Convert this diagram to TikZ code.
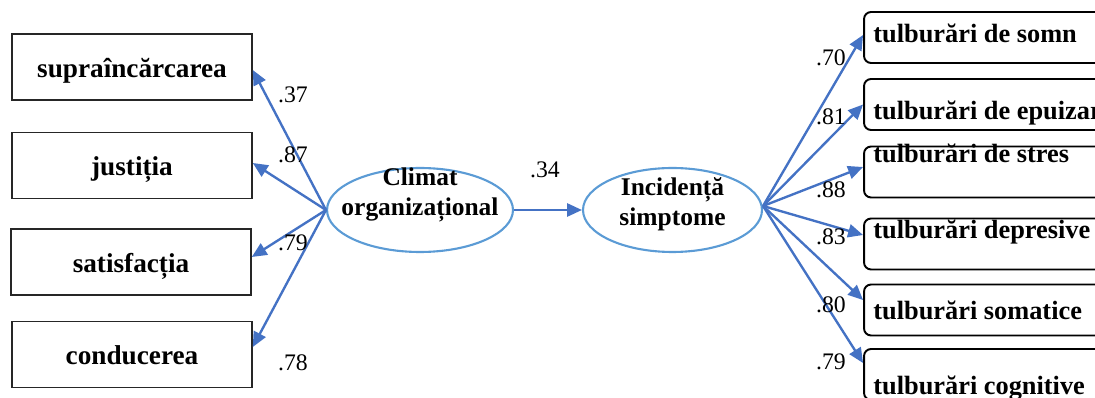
\documentclass[tikz,border=0pt]{standalone}
\usepackage{fontspec}
\setmainfont{Liberation Serif}
\usetikzlibrary{arrows.meta,shapes.geometric}
\definecolor{pathblue}{HTML}{4472C4}
\definecolor{latblue}{HTML}{5B9BD5}

\begin{document}
\begin{tikzpicture}[
  x=0.02cm, y=-0.02cm,
  font=\fontsize{13.5}{17}\selectfont,
  >={Triangle[length=8.5pt,width=7.5pt]},
  indic/.style={draw=black!85, line width=0.9pt, minimum width=4.8cm, minimum height=1.32cm,
                font=\fontsize{15.5}{17}\selectfont\bfseries, text height=2.5ex, text depth=0pt},
  symp/.style={draw=black, line width=1.1pt, rounded corners=4pt,
               minimum width=5.12cm, minimum height=1.02cm},
  symptxt/.style={anchor=west, inner sep=0pt, font=\fontsize{15}{17}\selectfont\bfseries},
  latent/.style={ellipse, draw=latblue, line width=1.2pt, minimum height=1.68cm, inner sep=0pt},
  lattxt/.style={align=center, inner sep=0pt, font=\fontsize{14.5}{17}\selectfont\bfseries},
  load/.style={->, draw=pathblue, line width=1.35pt},
  coef/.style={inner sep=0pt},
]
\useasboundingbox (0,0) rectangle (1095,398);
\clip (0,0) rectangle (1095,398);

% ---- indicators of organisational climate (left) ----
\node[indic] (supra) at (132, 67)    {supraîncărcarea};
\node[indic] (just)  at (132,165.5)  {justiția};
\node[indic] (satis) at (131,262)    {satisfacția};
\node[indic] (cond)  at (132,354.5)  {conducerea};

% ---- latent variables ----
\node[latent, minimum width=3.72cm,
      label={[lattxt,yshift=0.3cm]center:{Climat\\organizațional}}] (clim) at (420,210) {};
\node[latent, minimum width=3.58cm,
      label={[lattxt,yshift=0.12cm]center:{Incidență\\simptome}}] (inc) at (672.5,210) {};

% ---- symptom boxes (right, cut by the page edge) ----
\node[symp] (somn)  at (992, 37.5)  {};
\node[symp] (epuiz) at (992,104.5)  {};
\node[symp] (stres) at (992,172)    {};
\node[symp] (depr)  at (992,244)    {};
\node[symp] (somat) at (992,310)    {};
\node[symp] (cogn)  at (992,374.5)  {};
\node[symptxt] (somnt)  at (873, 33)  {tulburări de somn};
\node[symptxt] (epuizt) at (873,113)  {tulburări de epuizare};
\node[symptxt] (strest) at (873,153)  {tulburări de stres};
\node[symptxt] (deprt)  at (873,232)  {tulburări depresive};
\node[symptxt] (somatt) at (873,310)  {tulburări somatice};
\node[symptxt] (cognt)  at (873,388)  {tulburări cognitive};

% ---- loadings ----
\foreach \b/\s in {supra/-0.06, just/0.05, satis/0.1, cond/0.15}
  \draw[load] (clim.west) -- ([yshift=\s cm]\b.east);
\draw[load] (clim.east) -- (inc.west);
\foreach \b/\s in {somn/0.05, epuiz/0, stres/0.1, depr/0.18, somat/0.2, cogn/0.23}
  \draw[load] ([yshift=0.08cm]inc.east) -- ([yshift=\s cm]\b.west);

% ---- coefficients ----
\node[coef] (c37) at (293, 95)  {.37};
\node[coef] (c87) at (293,155)  {.87};
\node[coef] (c79) at (293,243)  {.79};
\node[coef] (c78) at (293,363)  {.78};
\node[coef] (c34) at (545,170)  {.34};
\node[coef] (c70) at (831, 58)  {.70};
\node[coef] (c81) at (831,117)  {.81};
\node[coef] (c88) at (831,190)  {.88};
\node[coef] (c83) at (831,237)  {.83};
\node[coef] (c80) at (831,305)  {.80};
\node[coef] (c79b) at (831,362) {.79};
\end{tikzpicture}
\end{document}
